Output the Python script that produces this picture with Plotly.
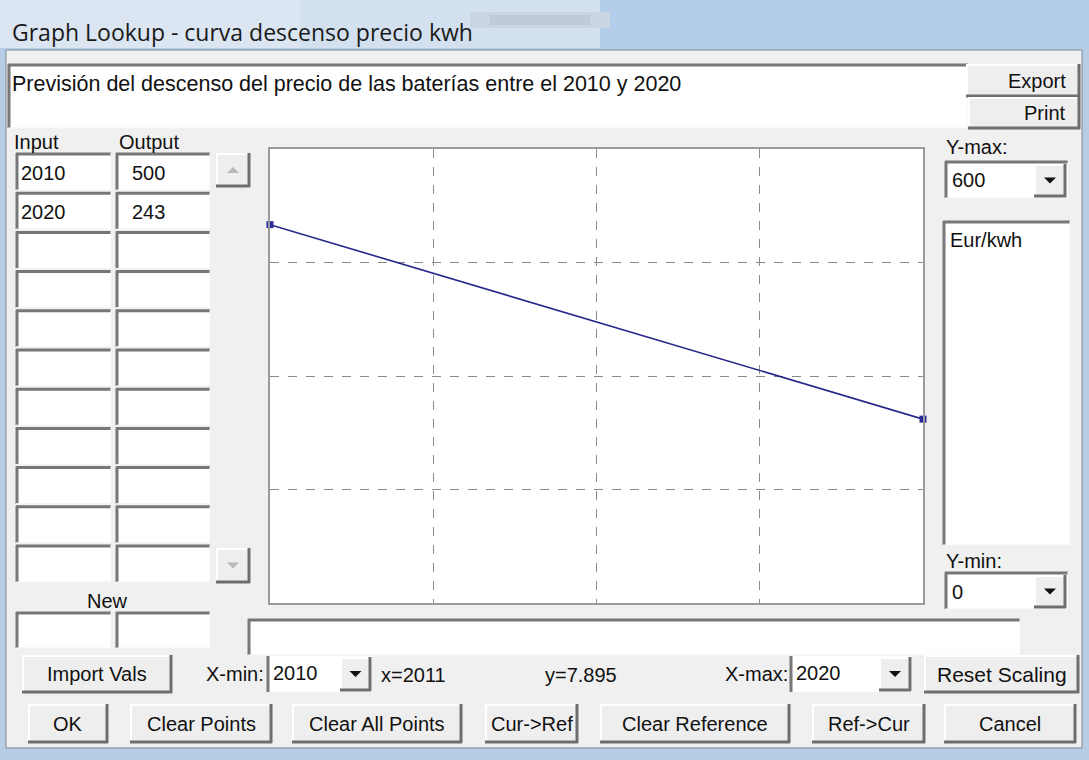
import plotly.graph_objects as go

# ---- data ----
inputs = [2010, 2020]
outputs = [500, 243]
x_min, x_max = 2010, 2020
y_min, y_max = 0, 600
title_text = "Graph Lookup - curva descenso precio kwh"
description = "Previsión del descenso del precio de las baterías entre el 2010 y 2020"
units = "Eur/kwh"
cursor_x = "x=2011"
cursor_y = "y=7.895"
buttons_row1 = ["Import Vals", "Reset Scaling"]
buttons_row2 = ["OK", "Clear Points", "Clear All Points", "Cur->Ref", "Clear Reference", "Ref->Cur", "Cancel"]

W, H = 1089, 760
PX0, PX1, PY0, PY1 = 270, 923, 149, 603
PW, PH = PX1 - PX0, PY1 - PY0


def px(x):
    return (x - PX0) / PW


def py(y):
    return (PY1 - y) / PH


shapes = []
annots = []
FONT = "Liberation Sans"
TXT = "#111111"
DARK = "#6e6e6e"
LIGHT = "#ffffff"
FS = 20


def rect(x0, y0, x1, y1, fill, line=None, lw=0, layer="below"):
    shapes.append(dict(type="rect", xref="paper", yref="paper",
                       x0=px(x0), x1=px(x1), y0=py(y1), y1=py(y0),
                       fillcolor=fill, line=dict(color=line or fill, width=lw), layer=layer))


def hline(x0, x1, y, color, lw=2, layer="below"):
    shapes.append(dict(type="line", xref="paper", yref="paper",
                       x0=px(x0), x1=px(x1), y0=py(y), y1=py(y),
                       line=dict(color=color, width=lw), layer=layer))


def vline(x, y0, y1, color, lw=2, layer="below"):
    shapes.append(dict(type="line", xref="paper", yref="paper",
                       x0=px(x), x1=px(x), y0=py(y0), y1=py(y1),
                       line=dict(color=color, width=lw), layer=layer))


def sunken(x0, y0, x1, y1, fill="#ffffff"):
    rect(x0, y0, x1, y1, fill)
    hline(x0, x1, y0 + 1, "#777777", 3)
    vline(x0 + 1, y0, y1, "#777777", 3)
    hline(x0, x1, y1, "#f4f4f4", 1)
    vline(x1, y0, y1, "#f4f4f4", 1)


def text(s, x, y, size=FS, anchor="left", color=TXT, font=FONT):
    annots.append(dict(text=s, xref="paper", yref="paper", x=px(x), y=py(y),
                       xanchor=anchor, yanchor="middle", showarrow=False,
                       font=dict(family=font, size=size, color=color)))


def button(x0, y0, x1, y1, label=None, size=FS, align="center"):
    rect(x0, y0, x1, y1, "#eeeeee")
    hline(x0, x1, y0 + 1, LIGHT, 2)
    vline(x0 + 1, y0, y1, LIGHT, 2)
    hline(x0, x1, y1 - 1, DARK, 3)
    vline(x1 - 1, y0, y1, DARK, 3)
    if label:
        if align == "center":
            text(label, (x0 + x1) / 2, (y0 + y1) / 2, size=size, anchor="center")
        else:
            text(label, x1 - 12, (y0 + y1) / 2, size=size, anchor="right")


def arrow_btn(x0, y0, x1, y1, up=None):
    button(x0, y0, x1, y1)
    cx, cy = (x0 + x1) / 2, (y0 + y1) / 2
    if up:
        path = f"M {px(cx-6)},{py(cy+3)} L {px(cx+6)},{py(cy+3)} L {px(cx)},{py(cy-3)} Z"
    else:
        path = f"M {px(cx-6)},{py(cy-3)} L {px(cx+6)},{py(cy-3)} L {px(cx)},{py(cy+3)} Z"
    col = "#111111" if up is None else "#b8b8b8"
    shapes.append(dict(type="path", xref="paper", yref="paper", path=path,
                       fillcolor=col, line=dict(color=col, width=0), layer="below"))


# ---- window frame ----
rect(0, 0, W, H, "#b7cde6")
rect(0, 0, W, 48, "#c3d7ec")
rect(0, 0, 600, 48, "#d2e0ef")
rect(0, 0, 300, 48, "#dbe6f2")
rect(600, 0, W, 48, "#b3cdea")
rect(470, 12, 610, 28, "#c9d5e2")
rect(490, 15, 590, 25, "#bfcbd8")
text(title_text, 10, 32, size=23, color="#1a1a1a", font="Open Sans")
# dialog body
rect(6, 50, 1082, 748, "#f0f0f0", line="#7a8795", lw=1)

# description box
sunken(8, 64, 968, 128)
text(description, 10, 84, size=21.5)
button(966, 64, 1080, 97, "Export", align="right")
button(968, 97, 1080, 129, "Print", align="right")

# table labels
text("Input", 12, 142)
text("Output", 117, 142)

row_tops = [153 + i * 39.2 for i in range(11)]
for top in row_tops:
    sunken(16, top, 111, top + 37)
    sunken(116, top, 210, top + 37)
for i in range(len(inputs)):
    top = row_tops[i]
    text(str(inputs[i]), 19, top + 20)
    text(str(outputs[i]), 130, top + 20)

arrow_btn(216, 153, 250, 187, up=True)
arrow_btn(216, 548, 250, 583, up=False)

text("New", 107, 601, anchor="center")
sunken(16, 612, 111, 648)
sunken(116, 612, 210, 648)

# right panel
text("Y-max:", 944, 147)
sunken(945, 161, 1068, 198)
text(str(y_max), 950, 180)
arrow_btn(1034, 164, 1066, 197)
sunken(943, 221, 1070, 545)
text(units, 948, 240)
text("Y-min:", 944, 561)
sunken(945, 572, 1068, 609)
text(str(y_min), 950, 592)
arrow_btn(1034, 575, 1066, 608)

# status box
sunken(248, 619, 1020, 655)

# row 1
button(22, 655, 172, 693, buttons_row1[0])
text("X-min:", 266, 674, anchor="right")
rect(267, 656, 372, 692, "#ffffff")
vline(268, 656, 692, "#777777", 3)
text(str(x_min), 271, 673)
arrow_btn(340, 657, 371, 691)
text(cursor_x, 379, 675)
text(cursor_y, 543, 675)
text("X-max:", 790, 674, anchor="right")
rect(790, 656, 912, 692, "#ffffff")
vline(791, 656, 692, "#777777", 3)
text(str(x_max), 794, 673)
arrow_btn(879, 657, 911, 691)
button(924, 655, 1079, 693, buttons_row1[1], size=21)

# row 2
row2_edges = [(28, 108), (130, 272), (292, 462), (485, 578), (600, 790), (812, 925), (944, 1076)]
for (a, b), lab in zip(row2_edges, buttons_row2):
    button(a, 704, b, 743, lab)

# white plotting surface
rect(PX0, PY0, PX1, PY1, "#ffffff")

# ---- the chart ----
fig = go.Figure()
fig.add_trace(go.Scatter(x=inputs, y=outputs, mode="lines+markers",
                         line=dict(color="#25258a", width=1.6),
                         marker=dict(symbol="square", size=7, color="#2a2aa0"),
                         cliponaxis=False, hoverinfo="skip"))

axis_common = dict(showticklabels=False, ticks="", zeroline=False,
                   showgrid=True, gridcolor="#8a8a8a", gridwidth=1, griddash="dash",
                   showline=True, linecolor="#9a9a9a", linewidth=2, mirror=True,
                   fixedrange=True)
fig.update_xaxes(range=[x_min, x_max], dtick=(x_max - x_min) / 4, tick0=x_min, **axis_common)
fig.update_yaxes(range=[y_min, y_max], dtick=(y_max - y_min) / 4, tick0=y_min, **axis_common)

fig.update_layout(width=W, height=H,
                  margin=dict(l=PX0, r=W - PX1, t=PY0, b=H - PY1, autoexpand=False),
                  paper_bgcolor="#f0f0f0", plot_bgcolor="#ffffff",
                  showlegend=False, shapes=shapes, annotations=annots)

fig.write_html("out.html", config={"displayModeBar": False},
               post_script="document.body.style.margin='0';")
